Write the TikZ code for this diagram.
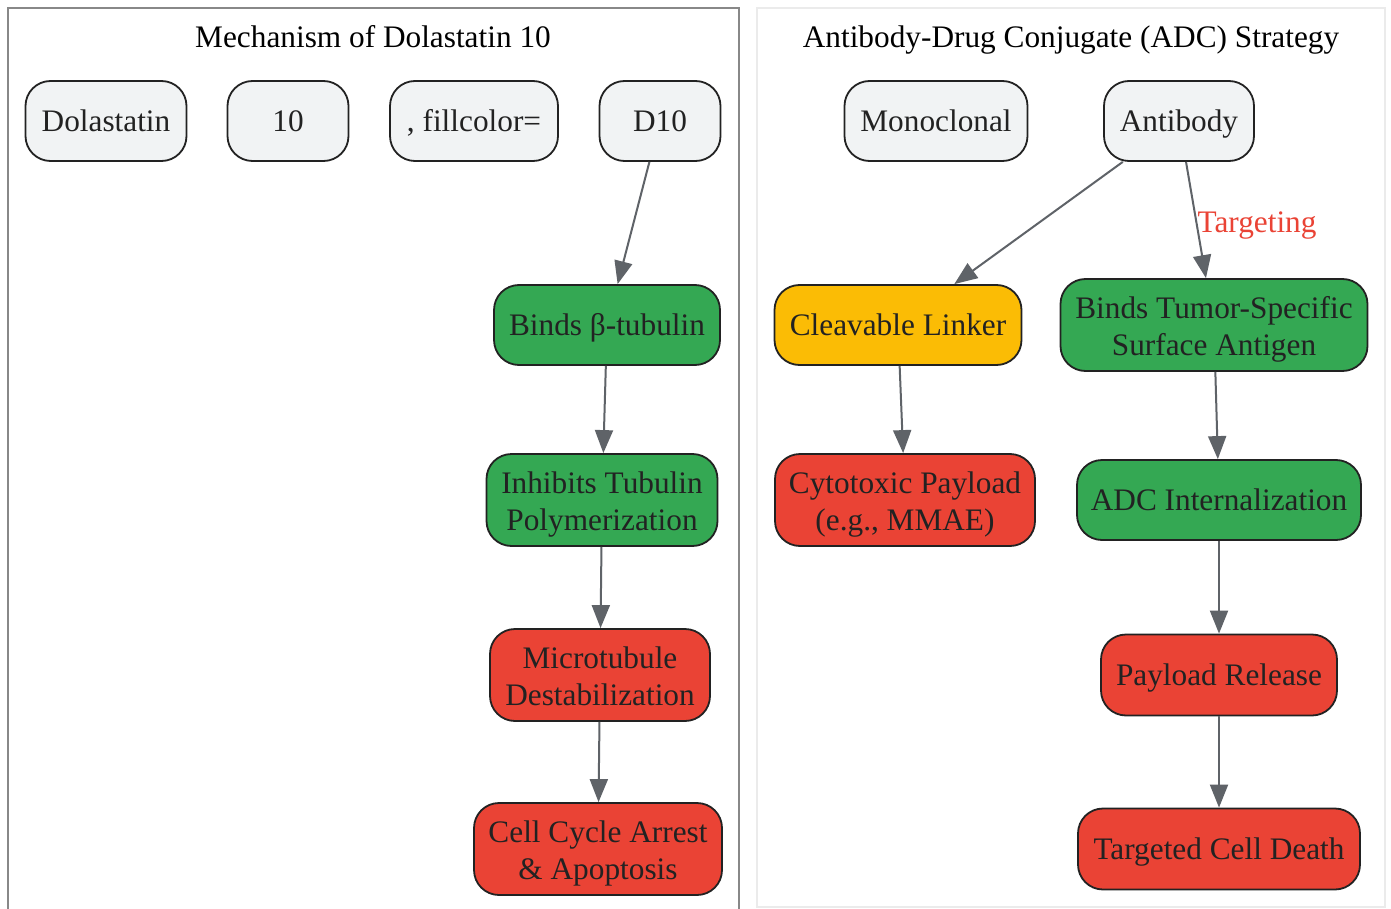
\documentclass[tikz,border=0pt]{standalone}
\usepackage{fontspec}
\setmainfont{Liberation Serif}
\usetikzlibrary{arrows.meta}
\definecolor{gfill}{HTML}{F1F3F4}
\definecolor{green}{HTML}{34A853}
\definecolor{red}{HTML}{EA4335}
\definecolor{yellow}{HTML}{FBBC05}
\definecolor{edge}{HTML}{5F6368}
\definecolor{txt}{HTML}{222222}
\definecolor{lborder}{HTML}{888888}
\definecolor{rborder}{HTML}{EBEBEB}
\newcommand\topstrut{\rule{0pt}{31pt}}
\newcommand\botstrut{\rule[-7pt]{0pt}{7pt}}
\tikzset{
  box/.style={draw=txt, line width=1.8pt, rounded corners=25pt, inner sep=0pt, align=center, text=txt, font=\fontsize{31.3}{37}\selectfont},
  one/.style={text height=21.5pt, text depth=0pt},
  conn/.style={draw=edge, line width=2pt, -{Triangle[length=23pt,width=18pt]}},
  ttl/.style={inner sep=0pt, font=\fontsize{31.3}{37}\selectfont, text=black, text height=21.5pt, text depth=0pt},
}
\begin{document}
\begin{tikzpicture}[x=1pt,y=-1pt]
\useasboundingbox (0,0) rectangle (1391,909);
\fill[white] (0,0) rectangle (1391,909);
% clusters
\begin{scope}
\clip (0,0) rectangle (1391,909);
\draw[lborder, line width=1.8pt] (8,8) rectangle (739,930);
\draw[rborder, line width=1.8pt] (757,8) rectangle (1385,907);
\end{scope}
\node[ttl] (t1) at (373,37) {Mechanism of Dolastatin 10};
\node[ttl] (t2) at (1071,37) {Antibody-Drug Conjugate (ADC) Strategy};
% left cluster
\node[box, one, fill=gfill, minimum width=161pt, minimum height=80pt] (dol) at (106,121) {Dolastatin};
\node[box, one, fill=gfill, minimum width=121pt, minimum height=80pt] (ten) at (288,121) {10};
\node[box, one, fill=gfill, minimum width=168pt, minimum height=80pt] (fc) at (474,121) {, fillcolor=};
\node[box, one, fill=gfill, minimum width=121pt, minimum height=80pt] (d10) at (660,121) {D10};
\node[box, one, fill=green, minimum width=226pt, minimum height=80pt] (bt) at (607,325) {Binds β-tubulin};
\node[box, fill=green, minimum width=231pt, minimum height=92pt] (itp) at (602,500) {\topstrut Inhibits Tubulin\\Polymerization\botstrut};
\node[box, fill=red, minimum width=220pt, minimum height=92pt] (md) at (600,675) {\topstrut Microtubule\\Destabilization\botstrut};
\node[box, fill=red, minimum width=248pt, minimum height=92pt] (cca) at (598,849) {\topstrut Cell Cycle Arrest\\\& Apoptosis\botstrut};
% right cluster
\node[box, one, fill=gfill, minimum width=183pt, minimum height=80pt] (mono) at (936,121) {Monoclonal};
\node[box, one, fill=gfill, minimum width=150pt, minimum height=80pt] (ab) at (1179,121) {Antibody};
\node[box, one, fill=yellow, minimum width=247pt, minimum height=80pt] (cl) at (898,325) {Cleavable Linker};
\node[box, fill=green, minimum width=307pt, minimum height=92pt] (bts) at (1214,325) {\topstrut Binds Tumor-Specific\\Surface Antigen\botstrut};
\node[box, fill=red, minimum width=260pt, minimum height=92pt] (cp) at (905,500) {\topstrut Cytotoxic Payload\\(e.g., MMAE)\botstrut};
\node[box, one, fill=green, minimum width=284pt, minimum height=80pt] (adc) at (1219,500) {ADC Internalization};
\node[box, one, fill=red, minimum width=236pt, minimum height=81pt] (pr) at (1219,675) {Payload Release};
\node[box, one, fill=red, minimum width=282pt, minimum height=81pt] (tcd) at (1219,849) {Targeted Cell Death};
% edges
\draw[conn] (d10) -- (bt);
\draw[conn] (bt) -- (itp);
\draw[conn] (itp) -- (md);
\draw[conn] (md) -- (cca);
\draw[conn] (ab) -- (cl);
\draw[conn] (ab) -- (bts);
\node[inner sep=0pt, text=red, font=\fontsize{31.3}{37}\selectfont, text height=21.5pt, text depth=0pt] (tl) at (1257,222) {Targeting};
\draw[conn] (cl) -- (cp);
\draw[conn] (bts) -- (adc);
\draw[conn] (adc) -- (pr);
\draw[conn] (pr) -- (tcd);
\end{tikzpicture}
\end{document}
